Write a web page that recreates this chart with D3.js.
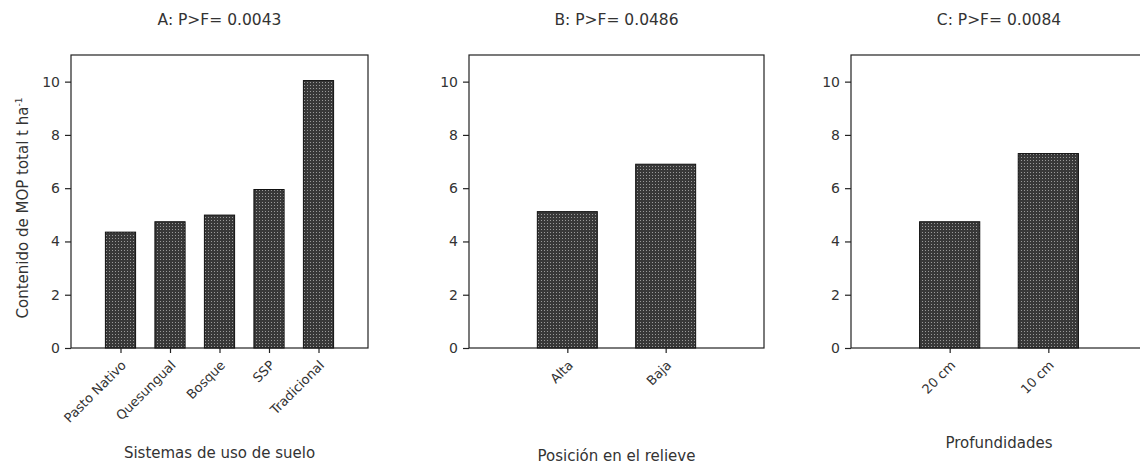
<!DOCTYPE html>
<html>
<head>
<meta charset="utf-8">
<script src="https://cdn.jsdelivr.net/npm/d3@7"></script>
<style>
  body { margin: 0; background: #fff; }
  text { font-family: "DejaVu Sans", sans-serif; fill: #333; }
  .frame { fill: none; stroke: #222; stroke-width: 1.2; }
  .axis path { display: none; }
  .axis line { stroke: #222; stroke-width: 1.2; }
</style>
</head>
<body>
<div class="container"></div>
<script>
const WIDTH = 1140,
    HEIGHT = 467;

// data
const panelTitles = ["A: P>F= 0.0043", "B: P>F= 0.0486", "C: P>F= 0.0084"];
const xTitles = ["Sistemas de uso de suelo", "Posición en el relieve", "Profundidades"];
const yTitle = "Contenido de MOP total t ha";
const yTicks = [0, 2, 4, 6, 8, 10];

const landUse = ["Pasto Nativo", "Quesungual", "Bosque", "SSP", "Tradicional"];
const landUseValues = [4.35, 4.74, 4.99, 5.95, 10.04];
const relief = ["Alta", "Baja"];
const reliefValues = [5.12, 6.90];
const depth = ["20 cm", "10 cm"];
const depthValues = [4.74, 7.30];

// layout of the three panels
const panels = [
    {cats: landUse, vals: landUseValues, left: 71, right: 368, xTitleY: 458},
    {cats: relief, vals: reliefValues, left: 469, right: 764, xTitleY: 461},
    {cats: depth, vals: depthValues, left: 851, right: 1147, xTitleY: 448}
];
const TOP = 55, BOTTOM = 348;

var translate = (x, y) => "translate(" + x + "," + y + ")";

var svg = d3.select('.container').append('svg')
    .attr('width', WIDTH)
    .attr('height', HEIGHT);

// dotted dark fill like the original bars
var pat = svg.append('defs').append('pattern')
    .attr('id', 'dots')
    .attr('width', 3)
    .attr('height', 3)
    .attr('patternUnits', 'userSpaceOnUse');
pat.append('rect').attr('width', 3).attr('height', 3).attr('fill', '#383838');
pat.append('rect').attr('x', 1).attr('y', 1).attr('width', 1).attr('height', 1).attr('fill', '#999');

var yScale = d3.scaleLinear()
    .domain([0, 11])
    .range([BOTTOM, TOP]);

panels.forEach((p, i) => {
    var xScale = d3.scalePoint()
        .domain(p.cats)
        .range([p.left, p.right])
        .padding(1);
    var barW = xScale.step() * 0.61;
    var g = svg.append('g');

    g.append('rect')
        .classed('frame', true)
        .attr('x', p.left)
        .attr('y', TOP)
        .attr('width', p.right - p.left)
        .attr('height', BOTTOM - TOP);

    g.selectAll('.bar')
        .data(p.vals)
        .enter()
        .append('rect')
        .classed('bar', true)
        .attr('x', (d, j) => xScale(p.cats[j]) - barW / 2)
        .attr('y', d => yScale(d))
        .attr('width', barW)
        .attr('height', d => BOTTOM - yScale(d))
        .attr('fill', 'url(#dots)')
        .attr('stroke', '#111')
        .attr('stroke-width', 1);

    var yAxis = g.append('g')
        .classed('axis', true)
        .attr('transform', translate(p.left, 0))
        .call(d3.axisLeft(yScale).tickValues(yTicks).tickSize(6).tickPadding(5));
    yAxis.selectAll('text').style('font-size', '14px').style('font-family', '"DejaVu Sans", sans-serif').attr('fill', '#333');

    var xAxis = g.append('g')
        .classed('axis', true)
        .attr('transform', translate(0, BOTTOM))
        .call(d3.axisBottom(xScale).tickSize(5));
    xAxis.selectAll('text')
        .style('font-size', '13px')
        .style('font-family', '"DejaVu Sans", sans-serif')
        .attr('fill', '#333')
        .attr('text-anchor', 'end')
        .attr('dy', 0)
        .attr('y', 0)
        .attr('transform', 'translate(6,18) rotate(-45)');

    g.append('text')
        .attr('x', (p.left + p.right) / 2)
        .attr('y', 24.5)
        .attr('text-anchor', 'middle')
        .style('font-size', '15.5px')
        .text(panelTitles[i]);

    g.append('text')
        .attr('x', (p.left + p.right) / 2)
        .attr('y', p.xTitleY)
        .attr('text-anchor', 'middle')
        .style('font-size', '15px')
        .text(xTitles[i]);
});

var yLab = svg.append('text')
    .attr('transform', translate(27.5, 208) + ' rotate(-90)')
    .attr('text-anchor', 'middle')
    .style('font-size', '15px')
    .text(yTitle);
yLab.append('tspan')
    .attr('dy', -6)
    .style('font-size', '9px')
    .text('-1');
</script>
</body>
</html>
